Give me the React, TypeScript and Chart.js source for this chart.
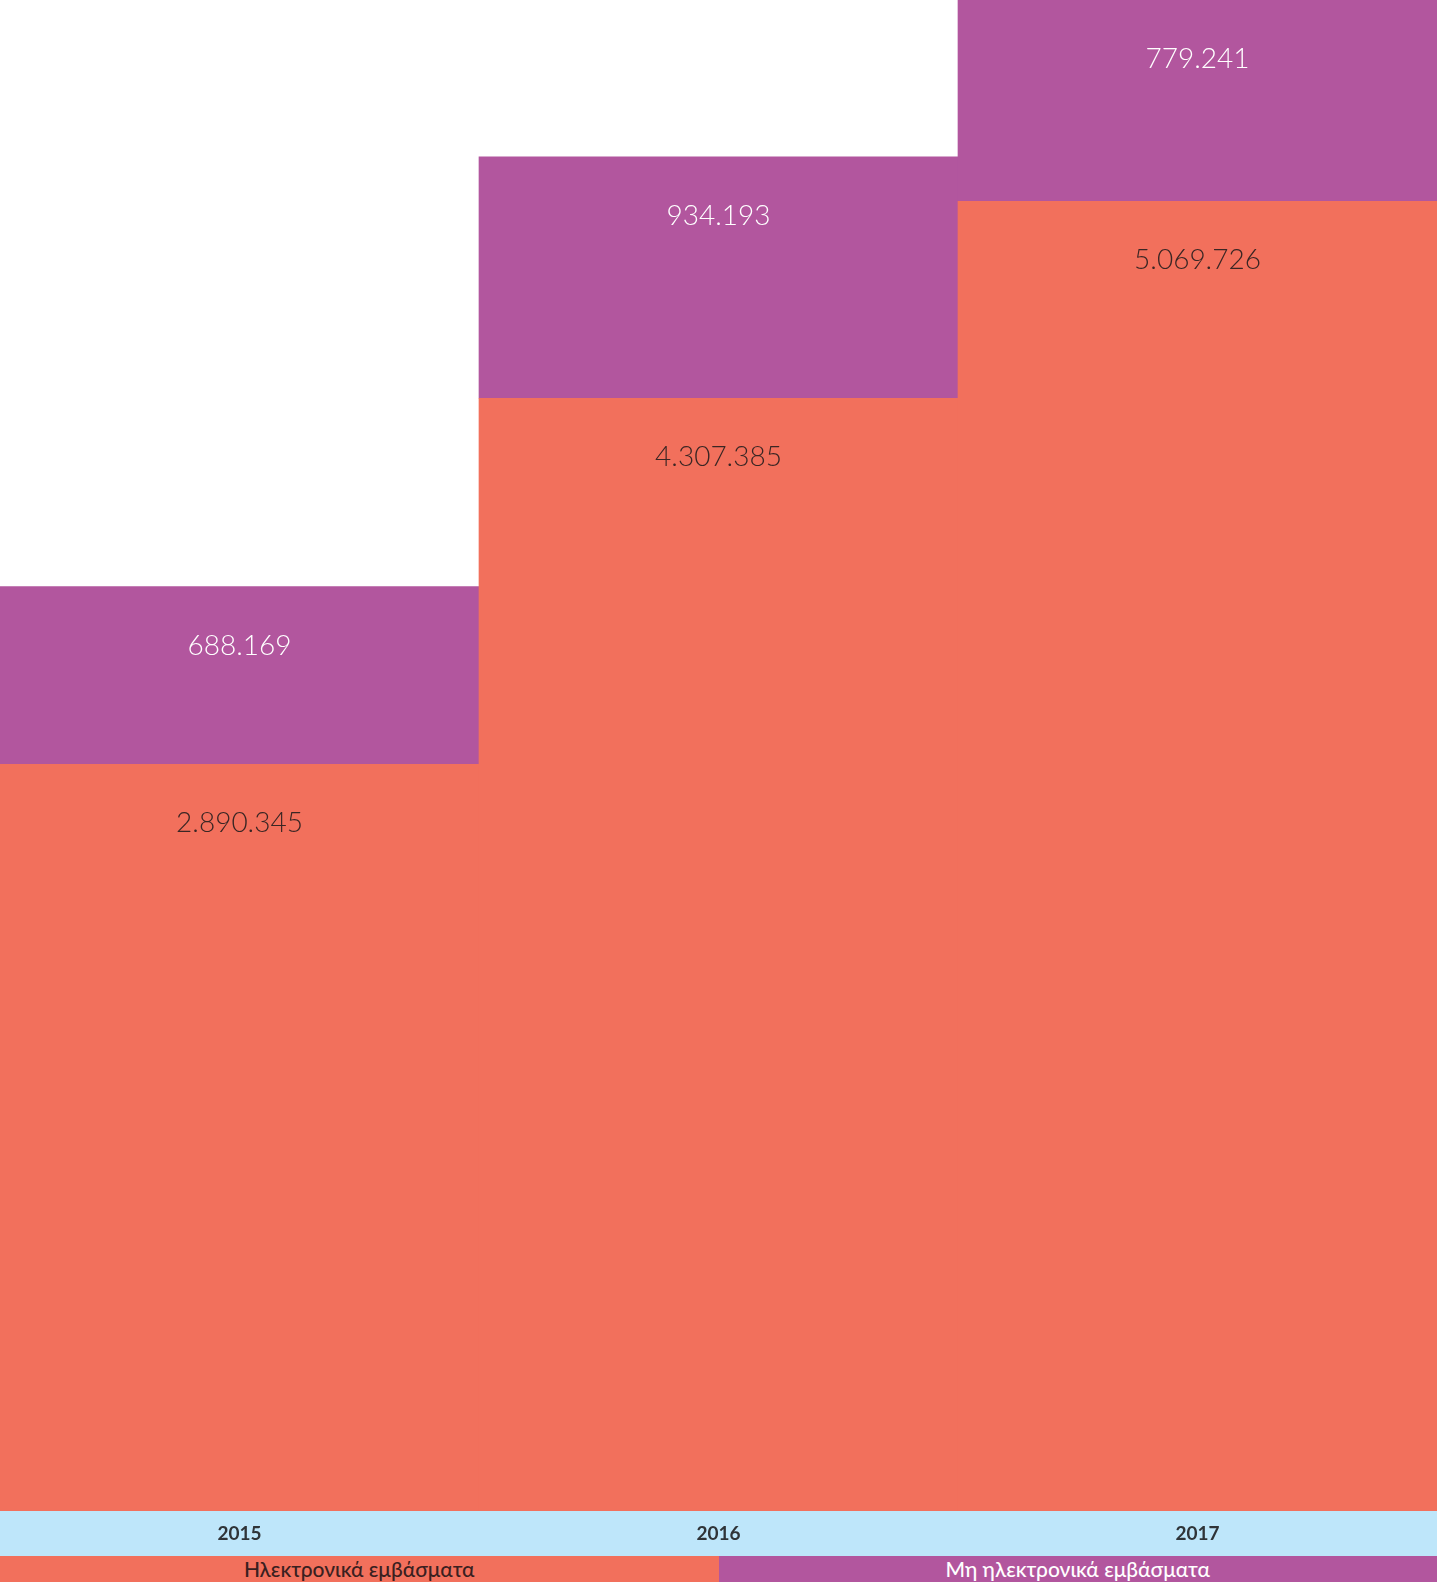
import React, { useEffect, useRef } from "react";
import { Chart, registerables } from "chart.js";

Chart.register(...registerables);

const categories = ["2015", "2016", "2017"];
const electronic = [2890345, 4307385, 5069726];
const nonElectronic = [688169, 934193, 779241];
const seriesNames = ["Ηλεκτρονικά εμβάσματα", "Μη ηλεκτρονικά εμβάσματα"];

const ORANGE = "#F2705C";
const PURPLE = "#B2569E";
const AXIS_BG = "#BEE6FA";
const LABEL_COLORS = ["#3a2624", "#ffffff"];

const fmt = (v: number) => String(v).replace(/\B(?=(\d{3})+(?!\d))/g, ".");

const valueLabels = {
  id: "valueLabels",
  afterDatasetsDraw(chart: any) {
    const ctx = chart.ctx;
    ctx.save();
    ctx.font = "300 28px Lato, 'Noto Sans', sans-serif";
    ctx.textAlign = "center";
    ctx.textBaseline = "middle";
    chart.data.datasets.forEach((ds: any, di: number) => {
      const meta = chart.getDatasetMeta(di);
      meta.data.forEach((bar: any, i: number) => {
        ctx.fillStyle = LABEL_COLORS[di];
        ctx.fillText(fmt(ds.data[i]), bar.x, bar.y + 59);
      });
    });
    ctx.restore();
  },
};

const axisBg = {
  id: "axisBg",
  beforeDraw(chart: any) {
    const s = chart.scales.x;
    const ctx = chart.ctx;
    ctx.save();
    ctx.fillStyle = AXIS_BG;
    ctx.fillRect(0, s.top, chart.width, s.bottom - s.top + 2);
    ctx.restore();
  },
};

export default function App() {
  const ref = useRef<HTMLCanvasElement | null>(null);
  useEffect(() => {
    document.body.style.margin = "0";
    const totals = categories.map((_, i) => electronic[i] + nonElectronic[i]);
    const chart = new Chart(ref.current as HTMLCanvasElement, {
      type: "bar",
      data: {
        labels: categories,
        datasets: [
          { label: seriesNames[0], data: electronic, backgroundColor: ORANGE, borderWidth: 0 },
          { label: seriesNames[1], data: nonElectronic, backgroundColor: PURPLE, borderWidth: 0 },
        ],
      },
      options: {
        animation: false,
        responsive: false,
        maintainAspectRatio: false,
        layout: { padding: 0 },
        plugins: { legend: { display: false }, tooltip: { enabled: false } },
        datasets: { bar: { barPercentage: 1, categoryPercentage: 1 } },
        scales: {
          x: {
            stacked: true,
            grid: { display: false, drawTicks: false },
            border: { display: false },
            ticks: {
              padding: 11,
              color: "#2f3438",
              font: { family: "Lato, 'Noto Sans', sans-serif", size: 19, weight: "bold" },
            },
            afterFit: (s: any) => {
              s.height = 45;
            },
          },
          y: {
            stacked: true,
            display: false,
            min: 0,
            max: Math.max(...totals),
            grace: 0,
          },
        },
      },
      plugins: [axisBg, valueLabels],
    });
    return () => chart.destroy();
  }, []);

  return (
    <div style={{ position: "fixed", left: 0, top: 0, width: 1437, height: 1582, background: "#fff" }}>
      <canvas ref={ref} width={1437} height={1556} style={{ display: "block", width: 1437, height: 1556 }} />
      <div style={{ display: "flex", height: 26 }}>
        {seriesNames.map((n, i) => (
          <div
            key={n}
            style={{
              flex: 1,
              background: i === 0 ? ORANGE : PURPLE,
              color: i === 0 ? "#3a2020" : "#ffffff",
              fontFamily: "Lato, 'Noto Sans', sans-serif",
              fontSize: 21,
              fontWeight: 500,
              lineHeight: "26px",
              textAlign: "center",
              whiteSpace: "nowrap",
            }}
          >
            {n}
          </div>
        ))}
      </div>
    </div>
  );
}
